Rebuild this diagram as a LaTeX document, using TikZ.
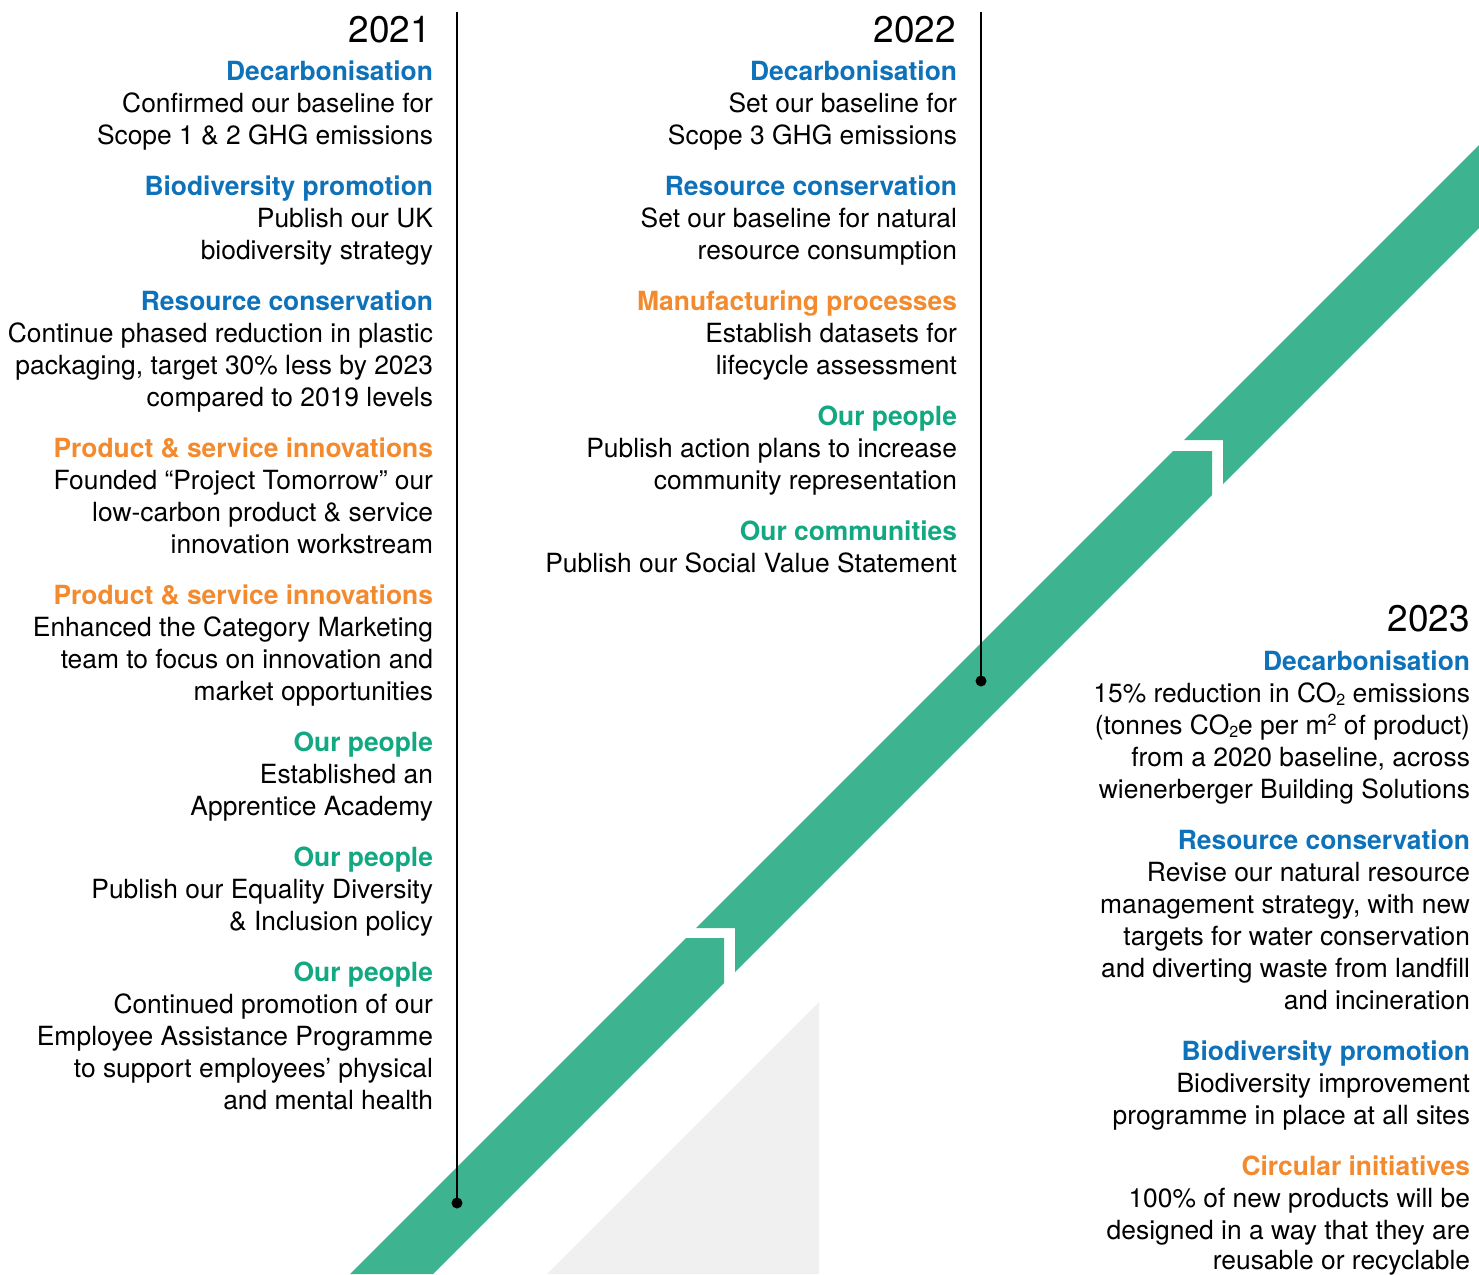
\documentclass[tikz,border=0pt]{standalone}
\usepackage{fontspec}
\setmainfont{TeX Gyre Heros}
\definecolor{band}{HTML}{3DB48F}
\definecolor{hblue}{HTML}{0E72BA}
\definecolor{horange}{HTML}{F38A2E}
\definecolor{hgreen}{HTML}{12A982}
\definecolor{tri}{HTML}{F0F0F0}
\tikzset{
  body/.style={anchor=base east, inner sep=0pt, outer sep=0pt, text=black, font=\fontsize{26.4}{30}\selectfont},
  head/.style={body, font=\fontsize{26.4}{30}\selectfont\bfseries},
  hb/.style={head, text=hblue},
  ho/.style={head, text=horange},
  hg/.style={head, text=hgreen},
  year/.style={anchor=base east, inner sep=0pt, text=black, font=\fontsize{37}{40}\selectfont},
  stem/.style={line width=2.5pt, black},
  bandpiece/.style={fill=band, draw=none}
}
\begin{document}
\begin{tikzpicture}[x=1pt,y=-1pt]
\useasboundingbox (0,0) rectangle (1479,1274);
\fill[white] (0,0) rectangle (1479,1274);
% grey triangle
\fill[tri] (547,1274) -- (819,1002) -- (819,1274) -- cycle;
% band pieces
\fill[bandpiece] (350,1274) -- (433,1274) -- (724,983) -- (724,938) -- (686,938) -- cycle;
\fill[bandpiece] (696,928) -- (735,928) -- (735,972) -- (1212,495) -- (1212,451) -- (1173,451) -- cycle;
\fill[bandpiece] (1184,440) -- (1223,440) -- (1223,484) -- (1479,228) -- (1479,145) -- cycle;
% stems
\coordinate (s1top) at (457,12);
\coordinate (s1end) at (457,1203);
\coordinate (s2top) at (981,12);
\coordinate (s2end) at (981,681);
\draw[stem] (s1top) -- (s1end);
\draw[stem] (s2top) -- (s2end);
\fill (s1end) circle (5.5);
\fill (s2end) circle (5.5);
% column 1
\node[year] (y1) at (431,42) {2021};
\node[hb] (a1) at (433,80) {Decarbonisation};
\node[body] (a2) at (433,112) {Confirmed our baseline for};
\node[body] (a3) at (433,144) {Scope 1 \& 2 GHG emissions};
\node[hb] (a4) at (433,195) {Biodiversity promotion};
\node[body] (a5) at (433,227) {Publish our UK};
\node[body] (a6) at (433,259) {biodiversity strategy};
\node[hb] (a7) at (433,310) {Resource conservation};
\node[body] (a8) at (433,342) {Continue phased reduction in plastic};
\node[body] (a9) at (433,374) {packaging, target 30\% less by 2023};
\node[body] (a10) at (433,406) {compared to 2019 levels};
\node[ho] (a11) at (433,457) {Product \& service innovations};
\node[body] (a12) at (433,489) {Founded “Project Tomorrow” our};
\node[body] (a13) at (433,521) {low-carbon product \& service};
\node[body] (a14) at (433,553) {innovation workstream};
\node[ho] (a15) at (433,604) {Product \& service innovations};
\node[body] (a16) at (433,636) {Enhanced the Category Marketing};
\node[body] (a17) at (433,668) {team to focus on innovation and};
\node[body] (a18) at (433,700) {market opportunities};
\node[hg] (a19) at (433,751) {Our people};
\node[body] (a20) at (433,783) {Established an};
\node[body] (a21) at (433,815) {Apprentice Academy};
\node[hg] (a22) at (433,866) {Our people};
\node[body] (a23) at (433,898) {Publish our Equality Diversity};
\node[body] (a24) at (433,930) {\& Inclusion policy};
\node[hg] (a25) at (433,981) {Our people};
\node[body] (a26) at (433,1013) {Continued promotion of our};
\node[body] (a27) at (433,1045) {Employee Assistance Programme};
\node[body] (a28) at (433,1077) {to support employees’ physical};
\node[body] (a29) at (433,1109) {and mental health};
% column 2
\node[year] (y2) at (956,42) {2022};
\node[hb] (b1) at (957,80) {Decarbonisation};
\node[body] (b2) at (957,112) {Set our baseline for};
\node[body] (b3) at (957,144) {Scope 3 GHG emissions};
\node[hb] (b4) at (957,195) {Resource conservation};
\node[body] (b5) at (957,227) {Set our baseline for natural};
\node[body] (b6) at (957,259) {resource consumption};
\node[ho] (b7) at (957,310) {Manufacturing processes};
\node[body] (b8) at (957,342) {Establish datasets for};
\node[body] (b9) at (957,374) {lifecycle assessment};
\node[hg] (b10) at (957,425) {Our people};
\node[body] (b11) at (957,457) {Publish action plans to increase};
\node[body] (b12) at (957,489) {community representation};
\node[hg] (b13) at (957,540) {Our communities};
\node[body] (b14) at (957,572) {Publish our Social Value Statement};
% column 3
\node[year] (y3) at (1470,631) {2023};
\node[hb] (c1) at (1470,670) {Decarbonisation};
\node[body] (c2) at (1470,702) {15\% reduction in CO{\fontsize{16}{16}\selectfont\raisebox{-3pt}{2}} emissions};
\node[body] (c3) at (1470,734) {(tonnes CO{\fontsize{16}{16}\selectfont\raisebox{-3pt}{2}}e per m{\fontsize{16}{16}\selectfont\raisebox{9pt}{2}} of product)};
\node[body] (c4) at (1470,766) {from a 2020 baseline, across};
\node[body] (c5) at (1470,798) {wienerberger Building Solutions};
\node[hb] (c6) at (1470,849) {Resource conservation};
\node[body] (c7) at (1470,881) {Revise our natural resource};
\node[body] (c8) at (1470,913) {management strategy, with new};
\node[body] (c9) at (1470,945) {targets for water conservation};
\node[body] (c10) at (1470,977) {and diverting waste from landfill};
\node[body] (c11) at (1470,1009) {and incineration};
\node[hb] (c12) at (1470,1060) {Biodiversity promotion};
\node[body] (c13) at (1470,1092) {Biodiversity improvement};
\node[body] (c14) at (1470,1124) {programme in place at all sites};
\node[ho] (c15) at (1470,1175) {Circular initiatives};
\node[body] (c16) at (1470,1207) {100\% of new products will be};
\node[body] (c17) at (1470,1239) {designed in a way that they are};
\node[body] (c18) at (1470,1269) {reusable or recyclable};
\end{tikzpicture}
\end{document}
